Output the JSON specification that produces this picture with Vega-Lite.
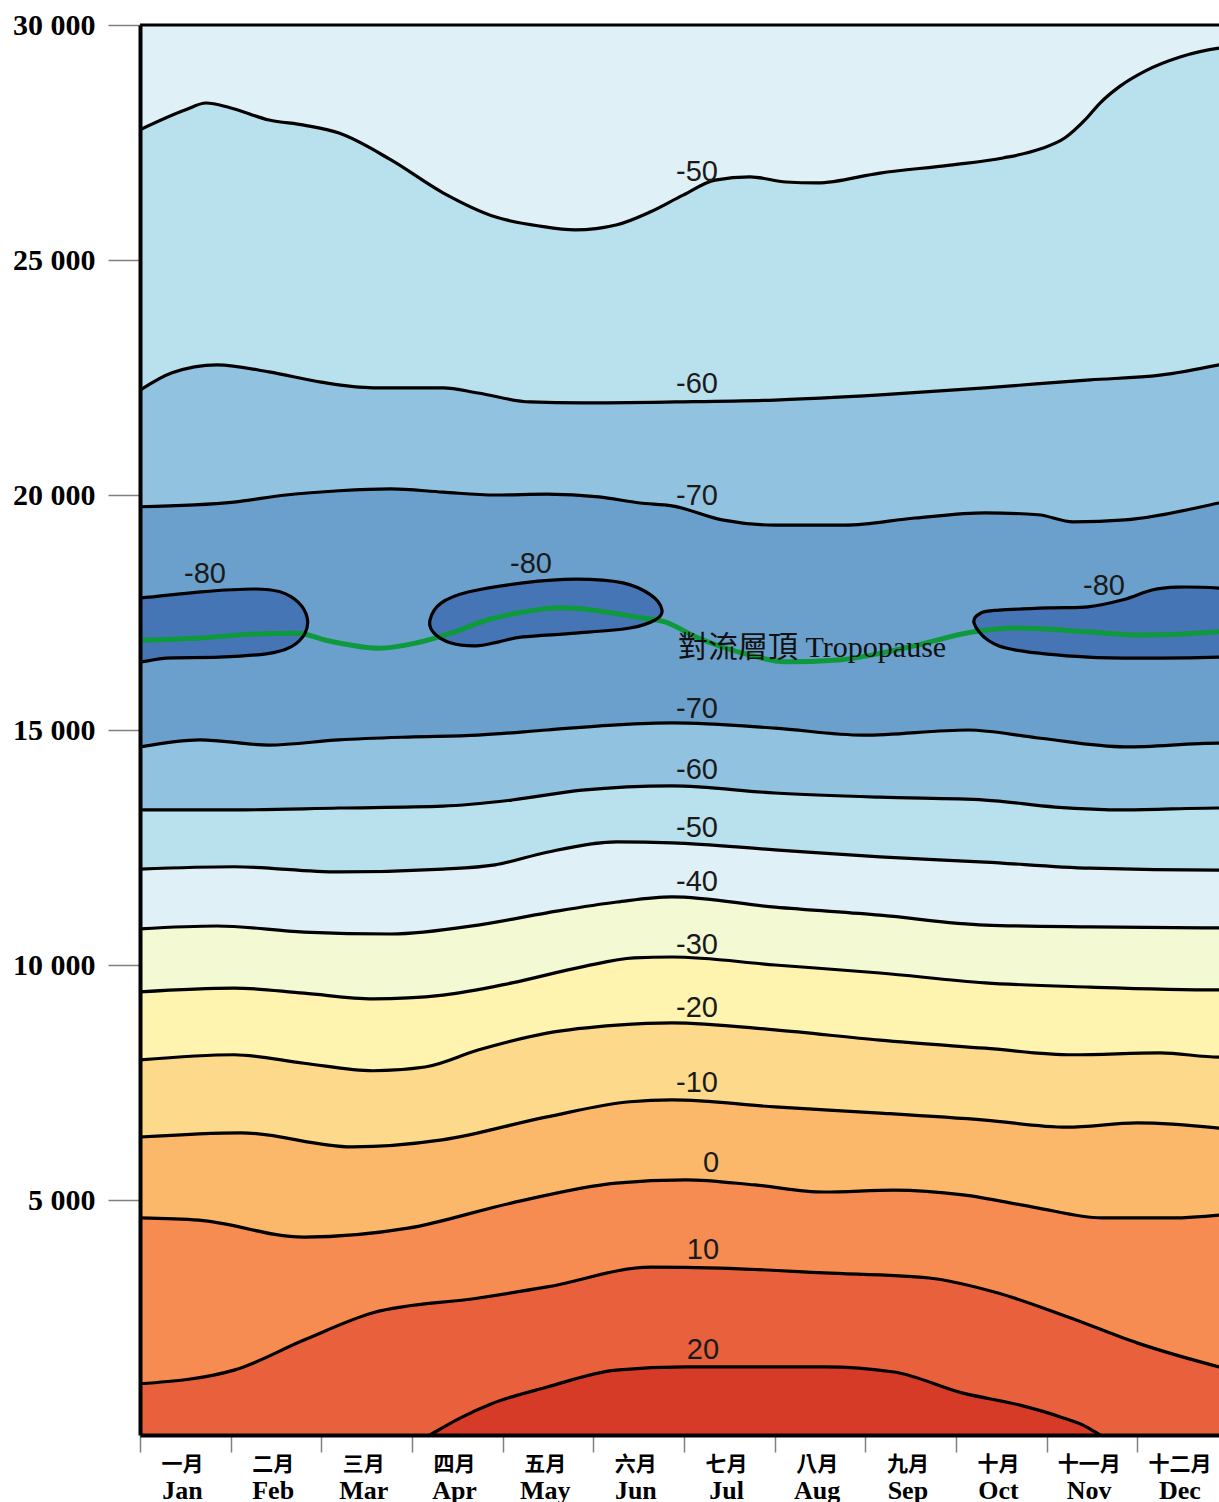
{
"$schema": "https://vega.github.io/schema/vega-lite/v6.json",
"width": 1079, "height": 1410,
"autosize": {"type": "none"},
"padding": {"left": 140, "top": 25, "right": 0, "bottom": 67},
"background": "white",
"config": {"view": {"stroke": null}},
"datasets": {
"lines": [
{"line":"A","x":0,"alt":27770},{"line":"A","x":0.496,"alt":28190},{"line":"A","x":0.728,"alt":28340},{"line":"A","x":0.993,"alt":28240},{"line":"A","x":1.423,"alt":27980},{"line":"A","x":1.809,"alt":27870},{"line":"A","x":2.195,"alt":27700},{"line":"A","x":2.768,"alt":27130},{"line":"A","x":3.342,"alt":26430},{"line":"A","x":3.915,"alt":25920},{"line":"A","x":4.412,"alt":25720},{"line":"A","x":4.798,"alt":25640},{"line":"A","x":5.261,"alt":25750},{"line":"A","x":5.625,"alt":26020},{"line":"A","x":5.989,"alt":26380},{"line":"A","x":6.342,"alt":26700},{"line":"A","x":6.728,"alt":26770},{"line":"A","x":7.125,"alt":26660},{"line":"A","x":7.467,"alt":26640},{"line":"A","x":8.161,"alt":26850},{"line":"A","x":8.934,"alt":27020},{"line":"A","x":9.518,"alt":27170},{"line":"A","x":9.926,"alt":27360},{"line":"A","x":10.202,"alt":27600},{"line":"A","x":10.422,"alt":27980},{"line":"A","x":10.588,"alt":28340},{"line":"A","x":10.809,"alt":28700},{"line":"A","x":11.084,"alt":29020},{"line":"A","x":11.47,"alt":29320},{"line":"A","x":11.9,"alt":29510},{"line":"A","x":12,"alt":29530},
{"line":"B","x":0,"alt":22230},{"line":"B","x":0.353,"alt":22600},{"line":"B","x":0.849,"alt":22770},{"line":"B","x":1.423,"alt":22620},{"line":"B","x":1.996,"alt":22400},{"line":"B","x":2.57,"alt":22280},{"line":"B","x":3.342,"alt":22280},{"line":"B","x":3.728,"alt":22170},{"line":"B","x":4.301,"alt":21980},{"line":"B","x":4.875,"alt":21960},{"line":"B","x":5.9,"alt":21980},{"line":"B","x":7.003,"alt":22020},{"line":"B","x":8.161,"alt":22130},{"line":"B","x":9.32,"alt":22280},{"line":"B","x":10.478,"alt":22450},{"line":"B","x":11.25,"alt":22550},{"line":"B","x":11.9,"alt":22770},{"line":"B","x":12,"alt":22810},
{"line":"C","x":0,"alt":19750},{"line":"C","x":1.037,"alt":19850},{"line":"C","x":1.61,"alt":20000},{"line":"C","x":2.195,"alt":20090},{"line":"C","x":2.768,"alt":20130},{"line":"C","x":3.342,"alt":20060},{"line":"C","x":3.915,"alt":20000},{"line":"C","x":4.489,"alt":20020},{"line":"C","x":5.062,"alt":19960},{"line":"C","x":5.515,"alt":19830},{"line":"C","x":5.867,"alt":19770},{"line":"C","x":6.419,"alt":19470},{"line":"C","x":7.003,"alt":19360},{"line":"C","x":7.775,"alt":19360},{"line":"C","x":8.547,"alt":19510},{"line":"C","x":9.32,"alt":19620},{"line":"C","x":9.904,"alt":19580},{"line":"C","x":10.29,"alt":19430},{"line":"C","x":10.864,"alt":19470},{"line":"C","x":11.9,"alt":19830},{"line":"C","x":12,"alt":19870},
{"line":"D","x":0,"alt":14640},{"line":"D","x":0.662,"alt":14790},{"line":"D","x":1.423,"alt":14680},{"line":"D","x":2.195,"alt":14790},{"line":"D","x":2.956,"alt":14850},{"line":"D","x":3.728,"alt":14890},{"line":"D","x":4.489,"alt":15000},{"line":"D","x":5.261,"alt":15110},{"line":"D","x":5.867,"alt":15150},{"line":"D","x":7.003,"alt":15040},{"line":"D","x":7.974,"alt":14890},{"line":"D","x":9.132,"alt":15000},{"line":"D","x":9.904,"alt":14830},{"line":"D","x":10.864,"alt":14640},{"line":"D","x":11.9,"alt":14720},{"line":"D","x":12,"alt":14720},
{"line":"E","x":0,"alt":13300},{"line":"E","x":1.037,"alt":13300},{"line":"E","x":2.195,"alt":13340},{"line":"E","x":3.342,"alt":13380},{"line":"E","x":4.103,"alt":13510},{"line":"E","x":4.875,"alt":13720},{"line":"E","x":5.867,"alt":13810},{"line":"E","x":7.003,"alt":13660},{"line":"E","x":8.161,"alt":13570},{"line":"E","x":9.32,"alt":13510},{"line":"E","x":10.092,"alt":13360},{"line":"E","x":10.864,"alt":13300},{"line":"E","x":11.9,"alt":13340},{"line":"E","x":12,"alt":13340},
{"line":"F","x":0,"alt":12040},{"line":"F","x":1.037,"alt":12090},{"line":"F","x":2.195,"alt":11980},{"line":"F","x":3.342,"alt":12040},{"line":"F","x":3.915,"alt":12130},{"line":"F","x":4.489,"alt":12400},{"line":"F","x":5.261,"alt":12620},{"line":"F","x":5.867,"alt":12600},{"line":"F","x":7.003,"alt":12450},{"line":"F","x":8.161,"alt":12300},{"line":"F","x":9.32,"alt":12190},{"line":"F","x":10.478,"alt":12060},{"line":"F","x":11.9,"alt":12020},{"line":"F","x":12,"alt":12020},
{"line":"G","x":0,"alt":10770},{"line":"G","x":0.849,"alt":10830},{"line":"G","x":1.809,"alt":10700},{"line":"G","x":2.768,"alt":10660},{"line":"G","x":3.728,"alt":10850},{"line":"G","x":4.489,"alt":11110},{"line":"G","x":5.261,"alt":11340},{"line":"G","x":5.867,"alt":11450},{"line":"G","x":7.003,"alt":11230},{"line":"G","x":8.161,"alt":11060},{"line":"G","x":9.32,"alt":10850},{"line":"G","x":10.478,"alt":10810},{"line":"G","x":11.9,"alt":10790},{"line":"G","x":12,"alt":10790},
{"line":"H","x":0,"alt":9430},{"line":"H","x":1.037,"alt":9510},{"line":"H","x":1.809,"alt":9400},{"line":"H","x":2.57,"alt":9280},{"line":"H","x":3.342,"alt":9360},{"line":"H","x":4.103,"alt":9620},{"line":"H","x":4.875,"alt":9960},{"line":"H","x":5.448,"alt":10150},{"line":"H","x":5.867,"alt":10170},{"line":"H","x":7.003,"alt":10000},{"line":"H","x":8.161,"alt":9830},{"line":"H","x":9.32,"alt":9620},{"line":"H","x":10.478,"alt":9530},{"line":"H","x":11.9,"alt":9470},{"line":"H","x":12,"alt":9470},
{"line":"I","x":0,"alt":7980},{"line":"I","x":1.037,"alt":8090},{"line":"I","x":1.809,"alt":7910},{"line":"I","x":2.57,"alt":7750},{"line":"I","x":3.143,"alt":7830},{"line":"I","x":3.728,"alt":8190},{"line":"I","x":4.489,"alt":8550},{"line":"I","x":5.261,"alt":8720},{"line":"I","x":5.867,"alt":8770},{"line":"I","x":7.003,"alt":8620},{"line":"I","x":8.161,"alt":8400},{"line":"I","x":9.32,"alt":8230},{"line":"I","x":10.29,"alt":8090},{"line":"I","x":11.25,"alt":8130},{"line":"I","x":11.9,"alt":8040},{"line":"I","x":12,"alt":8040},
{"line":"J","x":0,"alt":6340},{"line":"J","x":1.114,"alt":6430},{"line":"J","x":2.338,"alt":6130},{"line":"J","x":3.331,"alt":6280},{"line":"J","x":4.489,"alt":6770},{"line":"J","x":5.404,"alt":7090},{"line":"J","x":5.867,"alt":7130},{"line":"J","x":7.003,"alt":6980},{"line":"J","x":8.161,"alt":6850},{"line":"J","x":9.32,"alt":6700},{"line":"J","x":10.224,"alt":6550},{"line":"J","x":10.996,"alt":6640},{"line":"J","x":11.9,"alt":6530},{"line":"J","x":12,"alt":6510},
{"line":"K","x":0,"alt":4620},{"line":"K","x":0.651,"alt":4570},{"line":"K","x":1.809,"alt":4210},{"line":"K","x":2.956,"alt":4400},{"line":"K","x":4.103,"alt":4940},{"line":"K","x":5.25,"alt":5360},{"line":"K","x":6.022,"alt":5430},{"line":"K","x":6.783,"alt":5320},{"line":"K","x":7.544,"alt":5170},{"line":"K","x":8.316,"alt":5210},{"line":"K","x":9.077,"alt":5110},{"line":"K","x":9.849,"alt":4850},{"line":"K","x":10.61,"alt":4620},{"line":"K","x":11.382,"alt":4620},{"line":"K","x":11.9,"alt":4680},{"line":"K","x":12,"alt":4700},
{"line":"L","x":0,"alt":1090},{"line":"L","x":1.037,"alt":1380},{"line":"L","x":1.809,"alt":2020},{"line":"L","x":2.57,"alt":2600},{"line":"L","x":3.717,"alt":2910},{"line":"L","x":4.489,"alt":3150},{"line":"L","x":5.636,"alt":3570},{"line":"L","x":6.397,"alt":3550},{"line":"L","x":7.544,"alt":3450},{"line":"L","x":8.702,"alt":3340},{"line":"L","x":9.463,"alt":3020},{"line":"L","x":10.235,"alt":2510},{"line":"L","x":10.996,"alt":1960},{"line":"L","x":11.9,"alt":1450},{"line":"L","x":12,"alt":1400},
{"line":"M","x":2.6,"alt":-700},{"line":"M","x":3.198,"alt":0},{"line":"M","x":3.529,"alt":360},{"line":"M","x":3.871,"alt":660},{"line":"M","x":4.489,"alt":1020},{"line":"M","x":5.25,"alt":1380},{"line":"M","x":6.022,"alt":1450},{"line":"M","x":7.544,"alt":1450},{"line":"M","x":8.316,"alt":1340},{"line":"M","x":9.077,"alt":890},{"line":"M","x":9.694,"alt":640},{"line":"M","x":10.158,"alt":380},{"line":"M","x":10.422,"alt":190},{"line":"M","x":10.588,"alt":0},{"line":"M","x":11.2,"alt":-700}
],
"loops": [
{"loop":"L1","i":0,"x":-0.496,"alt":17770},{"loop":"L1","i":1,"x":0.011,"alt":17810},{"loop":"L1","i":2,"x":0.673,"alt":17940},{"loop":"L1","i":3,"x":1.268,"alt":18000},{"loop":"L1","i":4,"x":1.544,"alt":17940},{"loop":"L1","i":5,"x":1.743,"alt":17720},{"loop":"L1","i":6,"x":1.842,"alt":17400},{"loop":"L1","i":7,"x":1.82,"alt":17060},{"loop":"L1","i":8,"x":1.665,"alt":16770},{"loop":"L1","i":9,"x":1.39,"alt":16620},{"loop":"L1","i":10,"x":0.871,"alt":16550},{"loop":"L1","i":11,"x":0.287,"alt":16530},{"loop":"L1","i":12,"x":0.011,"alt":16450},{"loop":"L1","i":13,"x":-0.496,"alt":16400},
{"loop":"L2","i":0,"x":3.198,"alt":17340},{"loop":"L2","i":1,"x":3.32,"alt":17700},{"loop":"L2","i":2,"x":3.629,"alt":17940},{"loop":"L2","i":3,"x":4.224,"alt":18130},{"loop":"L2","i":4,"x":4.809,"alt":18210},{"loop":"L2","i":5,"x":5.327,"alt":18130},{"loop":"L2","i":6,"x":5.636,"alt":17870},{"loop":"L2","i":7,"x":5.757,"alt":17550},{"loop":"L2","i":8,"x":5.68,"alt":17340},{"loop":"L2","i":9,"x":5.404,"alt":17170},{"loop":"L2","i":10,"x":4.809,"alt":17060},{"loop":"L2","i":11,"x":4.224,"alt":16980},{"loop":"L2","i":12,"x":3.948,"alt":16870},{"loop":"L2","i":13,"x":3.706,"alt":16790},{"loop":"L2","i":14,"x":3.43,"alt":16850},{"loop":"L2","i":15,"x":3.243,"alt":17060},
{"loop":"L3","i":0,"x":9.198,"alt":17280},{"loop":"L3","i":1,"x":9.275,"alt":17490},{"loop":"L3","i":2,"x":9.474,"alt":17550},{"loop":"L3","i":3,"x":10.059,"alt":17600},{"loop":"L3","i":4,"x":10.455,"alt":17620},{"loop":"L3","i":5,"x":10.841,"alt":17770},{"loop":"L3","i":6,"x":11.161,"alt":17980},{"loop":"L3","i":7,"x":11.437,"alt":18040},{"loop":"L3","i":8,"x":11.9,"alt":18020},{"loop":"L3","i":9,"x":12.35,"alt":17940},{"loop":"L3","i":10,"x":12.35,"alt":16600},{"loop":"L3","i":11,"x":11.9,"alt":16550},{"loop":"L3","i":12,"x":11.239,"alt":16530},{"loop":"L3","i":13,"x":10.455,"alt":16550},{"loop":"L3","i":14,"x":9.661,"alt":16700},{"loop":"L3","i":15,"x":9.353,"alt":16910}
],
"trop": [
{"x":0,"alt":16910},{"x":0.673,"alt":16960},{"x":1.268,"alt":17040},{"x":1.743,"alt":17060},{"x":2.051,"alt":16910},{"x":2.647,"alt":16740},{"x":3.044,"alt":16850},{"x":3.43,"alt":17060},{"x":3.827,"alt":17340},{"x":4.224,"alt":17510},{"x":4.621,"alt":17600},{"x":5.007,"alt":17550},{"x":5.481,"alt":17400},{"x":5.79,"alt":17300},{"x":6.132,"alt":16980},{"x":6.717,"alt":16600},{"x":7.114,"alt":16450},{"x":7.698,"alt":16490},{"x":8.492,"alt":16770},{"x":9.198,"alt":17090},{"x":9.661,"alt":17170},{"x":10.455,"alt":17090},{"x":11.04,"alt":17020},{"x":11.9,"alt":17090},{"x":12,"alt":17110}
],
"labels": [
{"x":6.143,"alt":26870,"t":"-50"},{"x":6.143,"alt":22360,"t":"-60"},{"x":6.143,"alt":19980,"t":"-70"},{"x":6.143,"alt":15450,"t":"-70"},{"x":6.143,"alt":14150,"t":"-60"},{"x":6.143,"alt":12910,"t":"-50"},{"x":6.143,"alt":11770,"t":"-40"},{"x":6.143,"alt":10430,"t":"-30"},{"x":6.143,"alt":9090,"t":"-20"},{"x":6.143,"alt":7490,"t":"-10"},{"x":6.298,"alt":5790,"t":"0"},{"x":6.209,"alt":3940,"t":"10"},{"x":6.209,"alt":1810,"t":"20"},{"x":0.717,"alt":18320,"t":"-80"},{"x":4.312,"alt":18530,"t":"-80"},{"x":10.632,"alt":18060,"t":"-80"}
],
"tropo": [
{"x":5.934,"alt":16750,"t":"對流層頂 Tropopause"}
],
"frame": [
{"x0":0,"x1":11.9,"top":30000}
]
},
"encoding": {
"y": {"field":"alt","type":"quantitative","scale":{"domain":[0,30000],"nice":false,"zero":false},
"axis":{"values":[5000,10000,15000,20000,25000,30000],"labelExpr":"replace(format(datum.value, ','), ',', ' ')","title":null,"grid":false,"domain":true,"domainColor":"black","domainWidth":4,"ticks":true,"tickSize":32,"tickColor":"#808080","tickWidth":1.5,"labelFont":"Liberation Serif","labelFontWeight":"bold","labelFontSize":30,"labelColor":"black","labelPadding":13,"labelOverlap":false,"zindex":1}}
},
"layer": [
{
"encoding": {"x": {"field":"x","type":"quantitative","scale":{"domain":[0,11.9],"nice":false,"zero":false},
"axis":{"orient":"bottom","values":[0,1,2,3,4,5,6,7,8,9,10,11],"labelExpr":"['一月','二月','三月','四月','五月','六月','七月','八月','九月','十月','十一月','十二月'][datum.value]","labelOffset":42,"title":null,"grid":false,"domain":true,"domainColor":"black","domainWidth":4,"ticks":true,"tickSize":17,"tickColor":"#808080","tickWidth":1.5,"labelFont":"Noto Sans CJK TC","labelFontWeight":"bold","labelFontSize":21,"labelColor":"black","labelBaseline":"middle","labelPadding":12,"labelFlush":false,"labelOverlap":false,"labelBound":false,"zindex":1}}},
"layer": [
{"data":{"name":"frame"},"mark":{"type":"rect","color":"#dff1f7","clip":true},"encoding":{"x":{"field":"x0","type":"quantitative"},"x2":{"field":"x1"},"y":{"field":"top","type":"quantitative"},"y2":{"datum":0}}},
{"data":{"name":"lines"},"transform":[{"filter":"datum.line=='A'"}],"mark":{"type":"area","interpolate":"monotone","color":"#b8e0ed","clip":true},"encoding":{"y2":{"datum":0}}},
{"data":{"name":"lines"},"transform":[{"filter":"datum.line=='B'"}],"mark":{"type":"area","interpolate":"monotone","color":"#91c3e0","clip":true},"encoding":{"y2":{"datum":0}}},
{"data":{"name":"lines"},"transform":[{"filter":"datum.line=='C'"}],"mark":{"type":"area","interpolate":"monotone","color":"#6aa0cb","clip":true},"encoding":{"y2":{"datum":0}}},
{"data":{"name":"lines"},"transform":[{"filter":"datum.line=='D'"}],"mark":{"type":"area","interpolate":"monotone","color":"#91c3e0","clip":true},"encoding":{"y2":{"datum":0}}},
{"data":{"name":"lines"},"transform":[{"filter":"datum.line=='E'"}],"mark":{"type":"area","interpolate":"monotone","color":"#b8e0ed","clip":true},"encoding":{"y2":{"datum":0}}},
{"data":{"name":"lines"},"transform":[{"filter":"datum.line=='F'"}],"mark":{"type":"area","interpolate":"monotone","color":"#dff1f7","clip":true},"encoding":{"y2":{"datum":0}}},
{"data":{"name":"lines"},"transform":[{"filter":"datum.line=='G'"}],"mark":{"type":"area","interpolate":"monotone","color":"#f3f9d3","clip":true},"encoding":{"y2":{"datum":0}}},
{"data":{"name":"lines"},"transform":[{"filter":"datum.line=='H'"}],"mark":{"type":"area","interpolate":"monotone","color":"#fef3af","clip":true},"encoding":{"y2":{"datum":0}}},
{"data":{"name":"lines"},"transform":[{"filter":"datum.line=='I'"}],"mark":{"type":"area","interpolate":"monotone","color":"#fdda8b","clip":true},"encoding":{"y2":{"datum":0}}},
{"data":{"name":"lines"},"transform":[{"filter":"datum.line=='J'"}],"mark":{"type":"area","interpolate":"monotone","color":"#fcb86a","clip":true},"encoding":{"y2":{"datum":0}}},
{"data":{"name":"lines"},"transform":[{"filter":"datum.line=='K'"}],"mark":{"type":"area","interpolate":"monotone","color":"#f68c52","clip":true},"encoding":{"y2":{"datum":0}}},
{"data":{"name":"lines"},"transform":[{"filter":"datum.line=='L'"}],"mark":{"type":"area","interpolate":"monotone","color":"#e9603d","clip":true},"encoding":{"y2":{"datum":0}}},
{"data":{"name":"lines"},"transform":[{"filter":"datum.line=='M'"}],"mark":{"type":"area","interpolate":"monotone","color":"#d63b28","clip":true},"encoding":{"y2":{"datum":0}}},
{"data":{"name":"loops"},"mark":{"type":"line","interpolate":"cardinal-closed","fill":"#4575b4","stroke":"#4575b4","strokeWidth":0.5,"clip":true},"encoding":{"detail":{"field":"loop"},"order":{"field":"i","type":"quantitative"}}},
{"data":{"name":"trop"},"mark":{"type":"line","interpolate":"monotone","color":"#0e9a3c","strokeWidth":5,"clip":true},"encoding":{}},
{"data":{"name":"lines"},"mark":{"type":"line","interpolate":"monotone","color":"black","strokeWidth":3.2,"clip":true},"encoding":{"detail":{"field":"line"}}},
{"data":{"name":"loops"},"mark":{"type":"line","interpolate":"cardinal-closed","color":"black","strokeWidth":3.2,"clip":true},"encoding":{"detail":{"field":"loop"},"order":{"field":"i","type":"quantitative"}}},
{"data":{"name":"frame"},"mark":{"type":"rule","color":"black","strokeWidth":3},"encoding":{"x":{"field":"x0","type":"quantitative"},"x2":{"field":"x1"},"y":{"field":"top","type":"quantitative"}}}
]
},
{
"encoding": {"x": {"field":"x","type":"quantitative","scale":{"domain":[0,11.9],"nice":false,"zero":false},
"axis":{"orient":"bottom","values":[0,1,2,3,4,5,6,7,8,9,10,11],"labelExpr":"['Jan','Feb','Mar','Apr','May','Jun','Jul','Aug','Sep','Oct','Nov','Dec'][datum.value]","labelOffset":42,"title":null,"grid":false,"domain":false,"ticks":false,"tickSize":0,"labelFont":"Liberation Serif","labelFontWeight":"bold","labelFontSize":26,"labelColor":"black","labelBaseline":"alphabetic","labelPadding":63,"labelFlush":false,"labelOverlap":false,"labelBound":false}}},
"layer": [
{"data":{"name":"labels"},"mark":{"type":"text","font":"Liberation Sans","fontSize":29,"color":"#1a1a1a","align":"center","baseline":"middle"},"encoding":{"text":{"field":"t"}}},
{"data":{"name":"tropo"},"mark":{"type":"text","font":"Liberation Serif, 'Noto Sans CJK TC'","fontSize":30,"color":"#111111","align":"left","baseline":"middle"},"encoding":{"text":{"field":"t"}}}
]
}
],
"resolve": {"axis": {"x": "independent"}}
}
